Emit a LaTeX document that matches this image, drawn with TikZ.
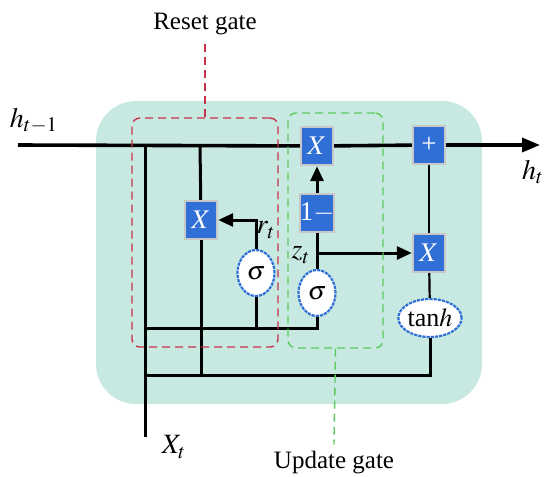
\documentclass[tikz,border=0pt]{standalone}
\usepackage{mathptmx}
\usepackage{fontspec}
\setmainfont{Liberation Serif}
\usetikzlibrary{arrows.meta,positioning,calc,shapes.geometric}
\definecolor{cellbg}{HTML}{C8E9E1}
\definecolor{opblue}{HTML}{2F6FD6}
\definecolor{resetred}{HTML}{C8324B}
\definecolor{updgreen}{HTML}{5CCB5C}

\begin{document}
\begin{tikzpicture}[x=0.5pt,y=-0.5pt,
 font=\fontsize{12.5}{15}\selectfont,>=Triangle,
 op/.style={draw=black!22,line width=1.2pt,fill=opblue,text=white,inner sep=0pt,
  minimum width=16pt,minimum height=19pt,font=\fontsize{13.5}{16}\selectfont},
 act/.style={ellipse,draw=opblue,line width=1.1pt,dash pattern=on 1.6pt off 0.5pt,
  fill=white,inner sep=0pt,minimum width=18.5pt,minimum height=23pt,font=\fontsize{13}{15}\selectfont},
 wire/.style={line width=1.5pt},
 flow/.style={wire,-{Triangle[length=7.5pt,width=6.5pt]}},
 gatebox/.style={dash pattern=on 4pt off 2.5pt,line width=0.7pt,rounded corners=4pt,inner sep=0pt},
 lbl/.style={inner sep=1pt,font=\fontsize{14}{16}\selectfont}]
\useasboundingbox (0,0) rectangle (553,477);
% cell background
\fill[cellbg,rounded corners=20pt] (96,101) rectangle (482,404);

% operations
\node[op] (xr) at (201,220) {$X$};
\node[op] (xz) at (317,146) {$X$};
\node[op] (om) at (317,213) {1$-$};
\node[op] (pl) at (429,145) {+};
\node[op] (xh) at (429,253) {$X$};
\node[act] (sr) at (256,273) {$\sigma$};
\node[act] (sz) at (317,293) {$\sigma$};
\node[act,minimum width=27pt,minimum height=19pt] (th) at (430,318) {tan$h$};

% junctions and free ends
\coordinate (hin) at (18,145);
\coordinate (hout) at (540,145);
\coordinate (j1) at (145,145);
\coordinate (j2) at (200,145);
\coordinate (xin) at (145,437);
\coordinate (mid) at (145,328);
\coordinate (bot) at (145,375);
\coordinate (zb) at (317,253);

% wires
\draw[line width=1.8pt] (hin) -- (xz);
\draw[line width=1.8pt] (xz) -- (pl);
\draw[flow,line width=1.8pt,-{Triangle[length=9pt,width=7pt]}] (pl) -- (hout);
\draw[wire] (j1) -- (xin);
\draw[wire] (j2) -- (xr);
\draw[wire] (xr) -- (xr |- bot);
\draw[wire] (bot) -| (th);
\draw[wire] (mid) -| (sz);
\draw[wire] (sr) -- (sr |- mid);
\draw[flow] (sr) |- (xr);
\draw[wire] (sz) -- (om);
\draw[flow] (om) -- (xz);
\draw[flow] (zb) -- (xh);
\draw[line width=1.1pt] (pl) -- (xh);
\draw[line width=1.1pt] (xh) -- (th);

% gates
\node[gatebox,draw=resetred,minimum width=73pt,minimum height=114.5pt] (rbox) at (205,232.5) {};
\node[gatebox,draw=updgreen,minimum width=47.5pt,minimum height=117.5pt] (ubox) at (335.5,230.5) {};
\node (rlab) at (205,24) {Reset gate};
\node (ulab) at (334,463) {Update gate};
\draw[gatebox,draw=resetred] (rbox.north) -- (rlab.south);
\draw[gatebox,draw=updgreen] (ubox.south) -- (ulab.north);

% redraw operations above gates
\node[op] at (xz) {$X$};

% labels
\node[lbl] (hl) at (34,121) {$h_{t-1}$};
\node[lbl] (hr) at (533,172) {$h_t$};
\node[lbl] (xl) at (174,447) {$X_t$};
\node[lbl] (zl) at (301,255) {$z_t$};
\node[lbl] (rl) at (266,230) {$r_t$};
\end{tikzpicture}
\end{document}
